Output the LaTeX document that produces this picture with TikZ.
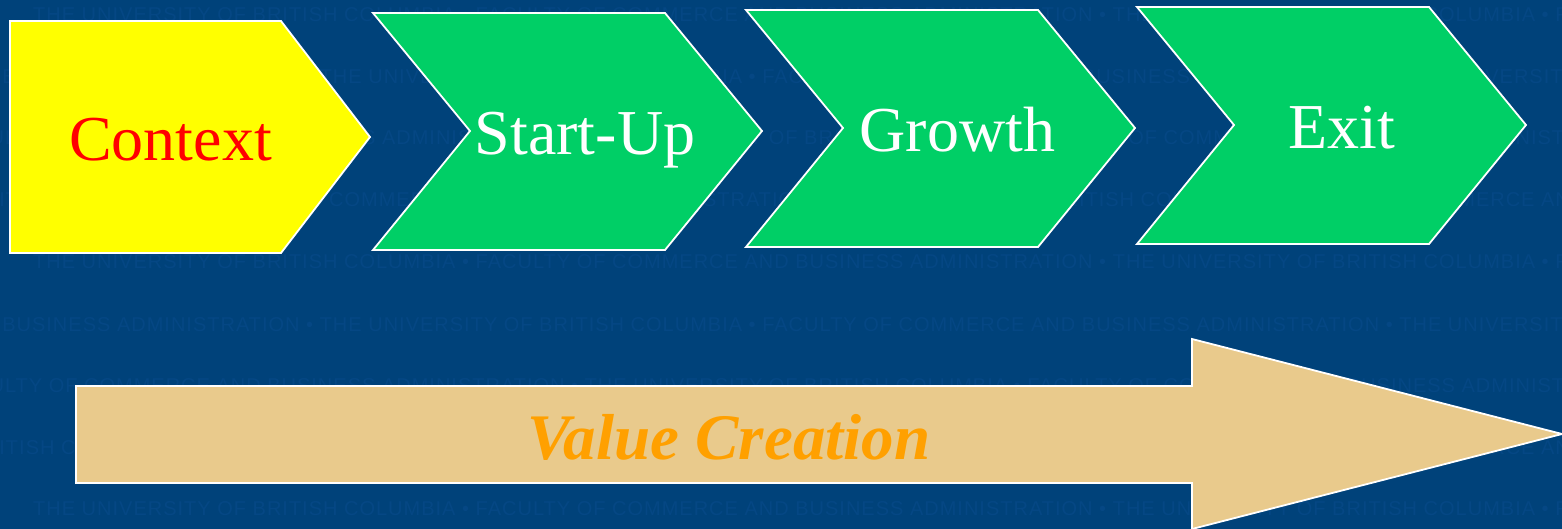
\documentclass[tikz,border=0pt]{standalone}
\usepackage{fontspec}
\setmainfont{Liberation Serif}
\newfontfamily\wmfont[LetterSpace=5]{Liberation Sans}
\definecolor{bgblue}{HTML}{00427A}
\definecolor{wmblue}{HTML}{054784}
\definecolor{chevgreen}{HTML}{00CF66}
\definecolor{tan}{HTML}{E9CA8C}
\definecolor{valorange}{HTML}{FFA000}
\definecolor{pureyellow}{HTML}{FFFF00}
\definecolor{purered}{HTML}{FF0000}
\newcommand{\wmtext}{THE UNIVERSITY OF BRITISH COLUMBIA • FACULTY OF COMMERCE AND BUSINESS ADMINISTRATION •}
\tikzset{
  shapeline/.style={draw=white,line width=1.8pt,line join=miter},
  stagelabel/.style={anchor=base,inner sep=0pt,font=\fontsize{64}{70}\selectfont},
  wmrow/.style={anchor=base west,inner sep=0pt,text=wmblue,font=\wmfont\fontsize{20}{22}\selectfont}
}
\begin{document}
\begin{tikzpicture}[x=1pt,y=-1pt]
\useasboundingbox (0,0) rectangle (1562,529);
\fill[bgblue] (0,0) rectangle (1562,529);
\begin{scope}
\clip (0,0) rectangle (1562,529);
\node[wmrow] (wa) at (33,22) {\wmtext\ \wmtext};
\node[wmrow] (wb) at (-760,84) {\wmtext\ \wmtext\ \wmtext};
\node[wmrow] (wc) at (-495,145) {\wmtext\ \wmtext\ \wmtext};
\node[wmrow] (wd) at (-250,207) {\wmtext\ \wmtext\ \wmtext};
\node[wmrow] (we) at (33,269) {\wmtext\ \wmtext};
\node[wmrow] (wf) at (-760,331) {\wmtext\ \wmtext\ \wmtext};
\node[wmrow] (wg) at (-495,392) {\wmtext\ \wmtext\ \wmtext};
\node[wmrow] (wh) at (-250,454) {\wmtext\ \wmtext\ \wmtext};
\node[wmrow] (wi) at (33,515) {\wmtext\ \wmtext};
\end{scope}
\draw[shapeline,fill=pureyellow] (10,21) -- (281,21) -- (370,137) -- (281,253) -- (10,253) -- cycle;
\draw[shapeline,fill=chevgreen] (373,13) -- (665,13) -- (762,131) -- (665,250) -- (373,250) -- (470,131) -- cycle;
\draw[shapeline,fill=chevgreen] (746,10) -- (1038,10) -- (1135,128) -- (1038,247) -- (746,247) -- (843,128) -- cycle;
\draw[shapeline,fill=chevgreen] (1137,7) -- (1429,7) -- (1526,125) -- (1429,244) -- (1137,244) -- (1234,125) -- cycle;
\draw[shapeline,fill=tan] (76,386) -- (1192,386) -- (1192,339) -- (1562,434) -- (1192,529) -- (1192,483) -- (76,483) -- cycle;
\node[stagelabel,text=purered] (context) at (170.5,161) {Context};
\node[stagelabel,text=white] (startup) at (585,155) {Start-Up};
\node[stagelabel,text=white] (growth) at (957.5,152) {Growth};
\node[stagelabel,text=white] (exit) at (1341.5,149) {Exit};
\node[stagelabel,text=valorange,font=\fontsize{65}{70}\selectfont\bfseries\itshape] (value) at (729,459) {Value Creation};
\end{tikzpicture}
\end{document}
